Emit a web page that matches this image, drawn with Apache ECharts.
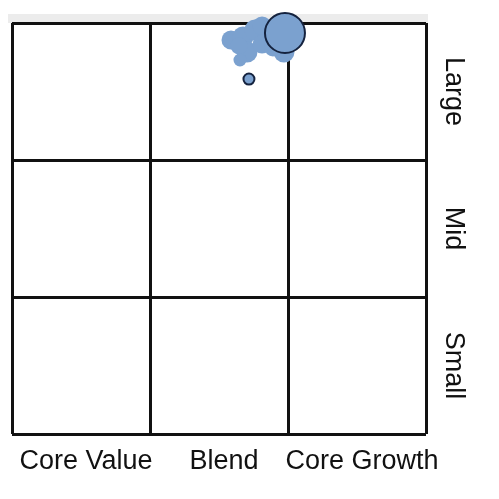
<!DOCTYPE html>
<html><head><meta charset="utf-8">
<script src="https://cdn.jsdelivr.net/npm/echarts@6/dist/echarts.min.js"></script>
<style>html,body{margin:0;padding:0;background:#fff}#c{width:499px;height:499px}</style>
</head><body><div id="c"></div>
<script>
const styleCats = ['Core Value', 'Blend', 'Core Growth'];
const sizeCats = ['Small', 'Mid', 'Large'];
// holdings cloud (style score x, size score y, bubble size)
const cloudX = [1.587, 1.674, 1.761, 1.812, 1.703, 1.645, 1.812, 1.971, 1.891, 1.652];
const cloudY = [2.876, 2.898, 2.949, 2.978, 2.788, 2.832, 2.847, 2.788, 2.818, 2.730];
const cloudS = [19, 21, 21, 19, 21, 17, 19, 21, 17, 13];
// highlighted points: fund centroid and a second marker
const markX = [1.978, 1.717];
const markY = [2.927, 2.591];
const markS = [40, 11];

const font = '"Liberation Sans", Arial, sans-serif';
const chart = echarts.init(document.getElementById('c'));
chart.setOption({
  animation: false,
  graphic: [{type: 'rect', shape: {x: 8, y: 14, width: 420, height: 9}, style: {fill: '#ececec'}, z: -1}],
  grid: {left: 12, right: 73, top: 23, bottom: 65},
  xAxis: [
    {type: 'value', min: 0, max: 3, interval: 1, axisLine: {show: false}, axisTick: {show: false}, axisLabel: {show: false},
     splitLine: {show: true, lineStyle: {color: '#111', width: 3}}},
    {type: 'category', data: styleCats, position: 'bottom', boundaryGap: true, axisLine: {show: false}, axisTick: {show: false},
     axisLabel: {interval: 0, fontFamily: font, fontSize: 27, color: '#111', margin: 14, padding: [0, 0, 0, 10]}}
  ],
  yAxis: [
    {type: 'value', min: 0, max: 3, interval: 1, axisLine: {show: false}, axisTick: {show: false}, axisLabel: {show: false},
     splitLine: {show: true, lineStyle: {color: '#111', width: 3}}},
    {type: 'category', data: sizeCats, position: 'right', boundaryGap: true, axisLine: {show: false}, axisTick: {show: false},
     axisLabel: {interval: 0, fontFamily: font, fontSize: 27, color: '#111', rotate: -90, margin: 27, align: 'center', verticalAlign: 'middle'}}
  ],
  series: [
    {type: 'scatter', xAxisIndex: 0, yAxisIndex: 0, clip: false,
     data: cloudX.map((x, i) => [x, cloudY[i], cloudS[i]]),
     symbolSize: d => d[2], itemStyle: {color: '#7ba1cf', opacity: 1}},
    {type: 'scatter', xAxisIndex: 0, yAxisIndex: 0, clip: false,
     data: markX.map((x, i) => [x, markY[i], markS[i]]),
     symbolSize: d => d[2], itemStyle: {color: '#7ba1cf', borderColor: '#15233f', borderWidth: 2, opacity: 1}}
  ]
});
</script></body></html>
